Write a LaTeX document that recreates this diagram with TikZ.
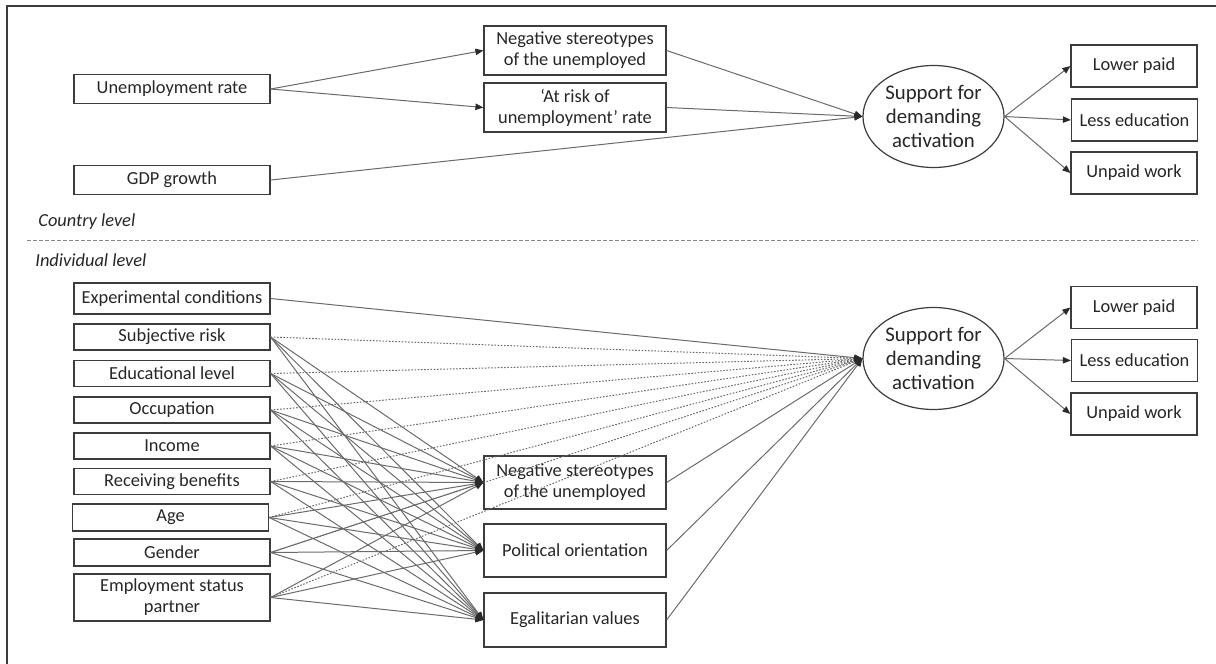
\documentclass[tikz,border=0pt]{standalone}
\usepackage{fontspec}
\setmainfont{Carlito}
\usetikzlibrary{arrows.meta,shapes.geometric}
\definecolor{framecol}{HTML}{3C3C3C}
\definecolor{boxcol}{HTML}{3C3C3C}
\definecolor{linecol}{HTML}{6A6A6A}
\definecolor{tipcol}{HTML}{2A2A2A}
\begin{document}
\begin{tikzpicture}[x=0.5pt,y=-0.5pt,
  box/.style={draw=boxcol, line width=0.6pt, inner sep=0pt, align=center,
    font=\fontsize{9.2}{10.5}\selectfont, text=black!85},
  lbox/.style={box, minimum width=98pt},
  mbox/.style={box, minimum width=91pt},
  rbox/.style={box, minimum width=63pt, minimum height=21pt},
  ell/.style={ellipse, draw=boxcol, line width=0.6pt, inner sep=0pt, align=center,
    minimum width=70.5pt, minimum height=51pt,
    font=\fontsize{10.4}{12}\selectfont, text=black!85},
  lvl/.style={anchor=west, inner sep=0pt, font=\fontsize{9.2}{10.5}\selectfont\itshape, text=black!85},
  conn/.style={draw=linecol, line width=0.5pt, -{Triangle[length=4pt,width=3.2pt,color=tipcol]}},
  dconn/.style={conn, dash pattern=on 0.8pt off 0.8pt},
  sep/.style={draw=linecol!80, line width=0.5pt, dash pattern=on 2pt off 1pt}
]
\useasboundingbox (0,0) rectangle (1216,664);
\coordinate (fbl) at (7,664);
\coordinate (ftl) at (7,6);
\coordinate (ftr) at (1216,6);
\draw[framecol, line width=0.8pt] (fbl) -- (ftl) -- (ftr);

% ---------- country level ----------
\node[lbox, minimum height=14.5pt] (ur) at (172,89) {Unemployment rate};
\node[lbox, minimum height=14.5pt] (gdp) at (172,180) {GDP growth};
\node[mbox, minimum height=24.5pt] (ns1) at (575,50.5) {Negative stereotypes\\of the unemployed};
\node[mbox, minimum height=24.5pt] (ar) at (575,107.5) {‘At risk of\\unemployment’ rate};
\node[ell] (sa1) at (933.5,116.5) {Support for\\demanding\\activation};
\node[rbox] (lp1) at (1134,66) {Lower paid};
\node[rbox] (le1) at (1134.5,120) {Less education};
\node[rbox] (uw1) at (1134,173) {Unpaid work};

\draw[conn] (ur.east) -- (ns1.west);
\draw[conn] (ur.east) -- (ar.west);
\draw[conn] (ns1.east) -- (sa1.west);
\draw[conn] (ar.east) -- (sa1.west);
\draw[conn] (gdp.east) -- (sa1.west);
\draw[conn] (sa1.east) -- (lp1.west);
\draw[conn] (sa1.east) -- (le1.west);
\draw[conn] (sa1.east) -- (uw1.west);

\node[lvl] (cl) at (38,222) {Country level};
\coordinate (sepl) at (27,240);
\coordinate (sepr) at (1198,240);
\draw[sep] (sepl) -- (sepr);
\node[lvl] (il) at (35,260) {Individual level};

% ---------- individual level ----------
\node[lbox, minimum height=15.5pt] (ec) at (172,298.5) {Experimental conditions};
\node[lbox, minimum height=13pt] (p1) at (172,337) {Subjective risk};
\node[lbox, minimum height=13pt] (p2) at (172,373.5) {Educational level};
\node[lbox, minimum height=13pt] (p3) at (172,410) {Occupation};
\node[lbox, minimum height=13pt] (p4) at (172,446) {Income};
\node[lbox, minimum height=13pt] (p5) at (172,481.5) {Receiving benefits};
\node[lbox, minimum height=13.5pt] (p6) at (170.5,517.5) {Age};
\node[lbox, minimum height=13.5pt] (p7) at (172,552.5) {Gender};
\node[lbox, minimum height=23.5pt] (p8) at (172,597.5) {Employment status\\partner};

\node[mbox, minimum height=26.5pt] (m1) at (575,482.5) {Negative stereotypes\\of the unemployed};
\node[mbox, minimum height=26.5pt] (m2) at (575,550.5) {Political orientation};
\node[mbox, minimum height=27pt] (m3) at (575,620) {Egalitarian values};

\node[ell] (sa2) at (933.5,358.5) {Support for\\demanding\\activation};
\node[rbox] (lp2) at (1134,307.5) {Lower paid};
\node[rbox] (le2) at (1134.5,360.5) {Less education};
\node[rbox] (uw2) at (1134,414) {Unpaid work};

\draw[conn] (ec.east) -- (sa2.west);
\foreach \p in {p1,p2,p3,p4,p5,p6,p7,p8}{
  \draw[dconn] (\p.east) -- (sa2.west);
  \foreach \m in {m1,m2,m3}{
    \draw[conn] (\p.east) -- (\m.west);
  }
}
\foreach \m in {m1,m2,m3}{
  \draw[conn] (\m.east) -- (sa2.west);
}
\draw[conn] (sa2.east) -- (lp2.west);
\draw[conn] (sa2.east) -- (le2.west);
\draw[conn] (sa2.east) -- (uw2.west);
\end{tikzpicture}
\end{document}
